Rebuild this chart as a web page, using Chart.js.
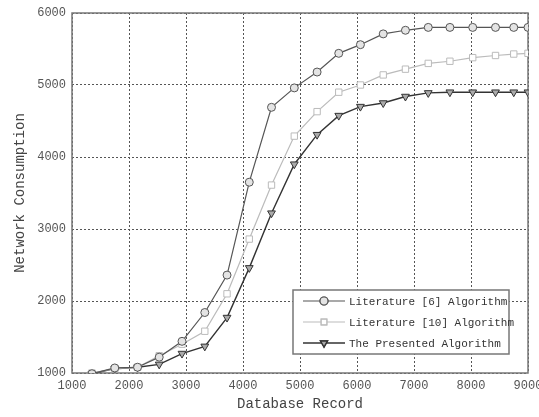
<!DOCTYPE html>
<html>
<head>
<meta charset="utf-8">
<script src="https://cdn.jsdelivr.net/npm/chart.js@4"></script>
<style>
  html, body { margin: 0; padding: 0; background: #fff; }
  #wrap { width: 539px; height: 417px; }
</style>
</head>
<body>
<div id="wrap"><canvas id="line_chart"></canvas></div>
<script>
// database record sizes (x)
var records = [1350, 1750, 2150, 2530, 2930, 3330, 3720, 4110, 4500, 4900, 5300,
               5680, 6060, 6460, 6850, 7250, 7630, 8030, 8430, 8750, 9000];
var lit6 = [990, 1070, 1080, 1220, 1440, 1840, 2360, 3650, 4690, 4960, 5180,
            5440, 5560, 5710, 5760, 5800, 5800, 5800, 5800, 5800, 5800];
var lit10 = [1000, 1060, 1080, 1240, 1400, 1580, 2100, 2860, 3610, 4290, 4630,
             4900, 5000, 5140, 5220, 5300, 5330, 5380, 5410, 5430, 5440];
var presented = [990, 1060, 1080, 1120, 1270, 1370, 1770, 2460, 3220, 3900, 4310,
                 4575, 4700, 4750, 4840, 4890, 4900, 4900, 4900, 4900, 4900];
var seriesNames = ['Literature [6] Algorithm', 'Literature [10] Algorithm', 'The Presented Algorithm'];
var xTicks = [1000, 2000, 3000, 4000, 5000, 6000, 7000, 8000, 9000];
var yTicks = [1000, 2000, 3000, 4000, 5000, 6000];

function pts(ys) {
    return records.map(function (x, i) { return {x: x, y: ys[i]}; });
}

// frame round the plot area + legend box inside it
var boxPlugin = {
    id: 'boxPlugin',
    beforeDatasetsDraw(chart) {
        var a = chart.chartArea, c = chart.ctx;
        c.save();
        c.strokeStyle = '#777';
        c.lineWidth = 1.5;
        c.setLineDash([]);
        c.strokeRect(a.left, a.top, a.right - a.left, a.bottom - a.top);
        c.restore();
    },
    afterDatasetsDraw(chart) {
        var a = chart.chartArea, c = chart.ctx;
        var w = 216, h = 64;
        var x0 = a.right - 19 - w, y0 = a.bottom - 19 - h;
        c.save();
        c.fillStyle = '#fff';
        c.fillRect(x0, y0, w, h);
        c.strokeStyle = '#777';
        c.lineWidth = 1.5;
        c.strokeRect(x0, y0, w, h);
        c.font = '11px "Liberation Mono"';
        c.textBaseline = 'middle';
        var rows = [11, 32, 53];
        chart.data.datasets.forEach(function (ds, i) {
            var y = y0 + rows[i];
            c.strokeStyle = ds.borderColor;
            c.lineWidth = ds.borderWidth;
            c.beginPath();
            c.moveTo(x0 + 10, y);
            c.lineTo(x0 + 52, y);
            c.stroke();
            Chart.helpers.drawPoint(c, {
                pointStyle: ds.pointStyle, radius: 4, rotation: ds.pointRotation || 0,
                borderWidth: 1
            }, x0 + 31, y);
            c.fillStyle = ds.pointBackgroundColor;
            c.strokeStyle = ds.pointBorderColor;
            c.fill();
            c.stroke();
            c.fillStyle = '#333';
            c.fillText(ds.label, x0 + 56, y + 1);
        });
        c.restore();
    }
};

new Chart(document.getElementById('line_chart'), {
    type: 'line',
    data: {
        datasets: [{
            label: seriesNames[0],
            data: pts(lit6),
            borderColor: '#555',
            borderWidth: 1.2,
            pointStyle: 'circle',
            pointRadius: 4,
            pointBackgroundColor: '#e4e4e4',
            pointBorderColor: '#555',
            pointBorderWidth: 1
        }, {
            label: seriesNames[1],
            data: pts(lit10),
            borderColor: '#bbb',
            borderWidth: 1.2,
            pointStyle: 'rect',
            pointRadius: 4.5,
            pointBackgroundColor: '#fff',
            pointBorderColor: '#bbb',
            pointBorderWidth: 1
        }, {
            label: seriesNames[2],
            data: pts(presented),
            borderColor: '#333',
            borderWidth: 1.4,
            pointStyle: 'triangle',
            pointRotation: 180,
            pointRadius: 4.5,
            pointBackgroundColor: '#aaa',
            pointBorderColor: '#333',
            pointBorderWidth: 1
        }]
    },
    options: {
        responsive: true,
        maintainAspectRatio: false,
        animation: false,
        layout: { padding: { top: 13, right: 11, left: 8, bottom: 0 } },
        plugins: { legend: { display: false }, tooltip: { enabled: false } },
        scales: {
            x: {
                type: 'linear',
                min: 1000, max: 9000,
                afterBuildTicks(s) { s.ticks = xTicks.map(function (v) { return {value: v}; }); },
                afterFit(s) { s.height = 44; s.paddingLeft = 0; s.paddingRight = 0; },
                ticks: {
                    color: '#555', padding: 6,
                    font: { family: '"Liberation Mono"', size: 12 },
                    callback: function (v) { return v; }
                },
                grid: { color: '#555', lineWidth: 1, drawTicks: false },
                border: { display: false, dash: [2, 2] },
                title: {
                    display: true, text: 'Database Record', color: '#444', padding: { top: 5 },
                    font: { family: '"Liberation Mono"', size: 14 }
                }
            },
            y: {
                min: 1000, max: 6000,
                afterBuildTicks(s) { s.ticks = yTicks.map(function (v) { return {value: v}; }); },
                afterFit(s) { s.width = 64; s.paddingTop = 0; s.paddingBottom = 0; },
                ticks: {
                    color: '#555', padding: 6,
                    font: { family: '"Liberation Mono"', size: 12 },
                    callback: function (v) { return v; }
                },
                grid: { color: '#555', lineWidth: 1, drawTicks: false },
                border: { display: false, dash: [2, 2] },
                title: {
                    display: true, text: 'Network Consumption', color: '#444', padding: { bottom: 4 },
                    font: { family: '"Liberation Mono"', size: 14 }
                }
            }
        }
    },
    plugins: [boxPlugin]
});
</script>
</body>
</html>
